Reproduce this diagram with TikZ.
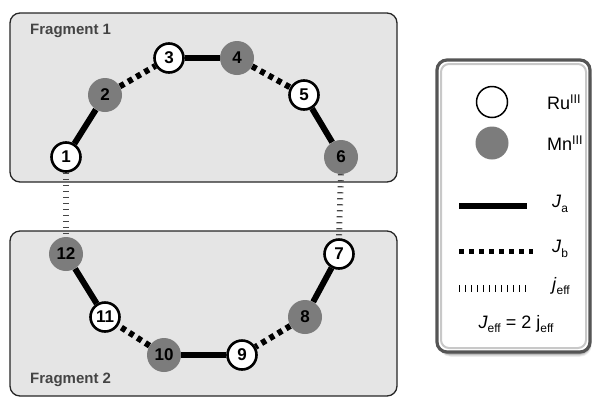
\documentclass[tikz,border=0pt]{standalone}
\usepackage{fontspec}
\setmainfont{Liberation Sans}
\definecolor{fragfill}{RGB}{229,229,229}
\definecolor{mngray}{RGB}{124,124,124}
\definecolor{fraglabel}{RGB}{68,68,68}
\definecolor{legborder}{RGB}{85,85,85}
\definecolor{legring}{RGB}{200,200,200}
\definecolor{effgray}{RGB}{70,70,70}
\pgfdeclarelayer{bg}
\pgfsetlayers{bg,main}
\begin{document}
\begin{tikzpicture}[x=1pt,y=-1pt,
  numfont/.style={font=\fontsize{17}{17}\selectfont\bfseries},
  ru/.style={circle,draw=black,line width=2.6pt,fill=white,minimum size=29pt,inner sep=0pt,numfont},
  mn/.style={circle,fill=mngray,minimum size=34pt,inner sep=0pt,numfont},
  ja/.style={line width=6pt},
  jb/.style={line width=6pt,dash pattern=on 5pt off 4.5pt},
  jeff/.style={draw=effgray,line width=6pt,dash pattern=on 1.2pt off 4.8pt},
  frag/.style={draw=black!85,line width=1.3pt,fill=fragfill,rounded corners=10pt,inner sep=0pt},
  fraglab/.style={font=\fontsize{15}{15}\selectfont\bfseries,text=fraglabel,anchor=west,inner sep=0pt},
  leglab/.style={font=\fontsize{18}{18}\selectfont,anchor=west,inner sep=0pt},
]
\useasboundingbox (0,0) rectangle (596,397);
\begin{pgfonlayer}{bg}
% fragment boxes
\node[frag,minimum width=387pt,minimum height=169pt] (frag1) at (203.5,97.5) {};
\node[frag,minimum width=387pt,minimum height=165pt] (frag2) at (203.5,313.5) {};
\end{pgfonlayer}
\node[fraglab] (f1lab) at (30,31) {Fragment 1};
\node[fraglab] (f2lab) at (30,380) {Fragment 2};
% sites
\node[ru] (n1) at (66,157) {1};
\node[mn] (n2) at (105,95) {2};
\node[ru] (n3) at (169,58) {3};
\node[mn] (n4) at (237,58) {4};
\node[ru] (n5) at (304,95) {5};
\node[mn] (n6) at (341,157) {6};
\node[ru] (n7) at (339,254) {7};
\node[mn] (n8) at (305,317) {8};
\node[ru] (n9) at (242,355) {9};
\node[mn] (n10) at (164,355) {10};
\node[ru] (n11) at (105,317) {11};
\node[mn] (n12) at (66,254) {12};
% couplings
\begin{pgfonlayer}{bg}
\draw[ja] (n1) -- (n2);
\draw[jb] (n2) -- (n3);
\draw[ja] (n3) -- (n4);
\draw[jb] (n4) -- (n5);
\draw[ja] (n5) -- (n6);
\draw[ja] (n7) -- (n8);
\draw[jb] (n8) -- (n9);
\draw[ja] (n9) -- (n10);
\draw[jb] (n10) -- (n11);
\draw[ja] (n11) -- (n12);
\draw[jeff] (n1.south) -- (n12.north);
\draw[jeff] (n6.south) -- (n7.north);
\end{pgfonlayer}
% legend
\foreach \o/\op in {6/0.06,5/0.08,4/0.1,3/0.12}{
  \fill[black,opacity=\op,rounded corners=12pt] (437+\o*0.3,62+\o) rectangle (590+\o*0.3,352+\o*0.8);}
\node[draw=legborder,line width=3.2pt,fill=white,rounded corners=10pt,minimum width=153pt,minimum height=292pt,inner sep=0pt] (legend) at (513.5,206) {};
\draw[legring,line width=2pt,rounded corners=8pt] (441,64) rectangle (586,348);
\node[ru,minimum size=31pt,line width=1.5pt] (lru) at (492,102) {};
\node[mn,minimum size=33pt] (lmn) at (492,143) {};
\node[leglab] (tru) at (547,102) {Ru\textsuperscript{III}};
\node[leglab] (tmn) at (547,143) {Mn\textsuperscript{III}};
\coordinate (a1) at (459,206); \coordinate (a2) at (527,206);
\coordinate (b1) at (459,251); \coordinate (b2) at (533,251);
\coordinate (e1) at (459,288); \coordinate (e2) at (527,288);
\draw[line width=5.5pt] (a1) -- (a2);
\draw[line width=5pt,dash pattern=on 5pt off 5pt] (b1) -- (b2);
\draw[draw=black,line width=7pt,dash pattern=on 1.1pt off 4.9pt] (e1) -- (e2);
\node[leglab] (tja) at (552,204) {\textit{J}\raisebox{-0.5ex}{\fontsize{12}{12}\selectfont a}};
\node[leglab] (tjb) at (552,249) {\textit{J}\raisebox{-0.5ex}{\fontsize{12}{12}\selectfont b}};
\node[leglab] (tje) at (552,286) {\textit{j}\raisebox{-0.5ex}{\fontsize{12}{12}\selectfont eff}};
\node[font=\fontsize{18}{18}\selectfont,inner sep=0pt] (tjj) at (516,324) {\textit{J}\raisebox{-0.5ex}{\fontsize{12}{12}\selectfont eff} = 2 j\raisebox{-0.5ex}{\fontsize{12}{12}\selectfont eff}};
\end{tikzpicture}
\end{document}
